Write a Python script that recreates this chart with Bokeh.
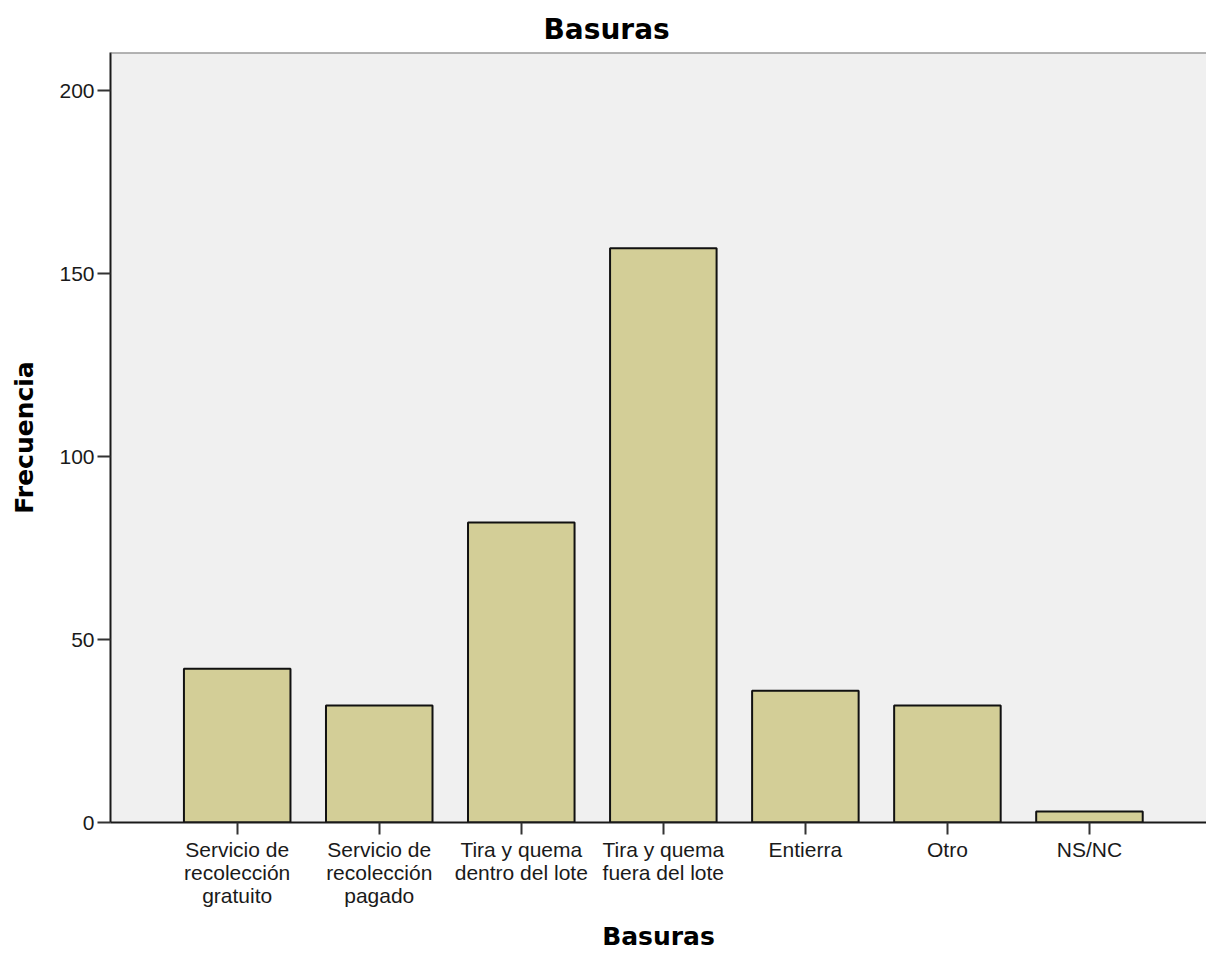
from bokeh.plotting import figure
from bokeh.models import FixedTicker, Span, Range1d
from bokeh.embed import file_html
from bokeh.resources import INLINE

categories = ["Servicio de\nrecolección\ngratuito", "Servicio de\nrecolección\npagado",
              "Tira y quema\ndentro del lote", "Tira y quema\nfuera del lote",
              "Entierra", "Otro", "NS/NC"]
frecuencia = [42, 32, 82, 157, 36, 32, 3]
y_ticks = [0, 50, 100, 150, 200]

xs = list(range(len(categories)))

p = figure(width=1206, height=953, output_backend="svg", toolbar_location=None,
           x_range=Range1d(-0.892, 6.824), y_range=Range1d(0, 210.5),
           min_border_left=110, min_border_right=0, min_border_top=52, min_border_bottom=131,
           background_fill_color="#f0f0f0", border_fill_color="white")

p.vbar(x=xs, top=frecuencia, width=0.75, bottom=0,
       fill_color="#d3ce97", line_color="#111111", line_width=2)

p.outline_line_color = None
p.grid.visible = False
p.add_layout(Span(location=210.5, dimension="width", line_color="#707070", line_width=2))

# title
p.title.text = "Basuras"
p.title.align = "left"
p.title.offset = 433
p.title.standoff = 13
p.title.text_font = "DejaVu Sans"
p.title.text_font_style = "bold"
p.title.text_font_size = "28px"
p.title.text_color = "black"

# x axis
xa = p.xaxis[0]
xa.ticker = FixedTicker(ticks=xs)
xa.major_label_overrides = {i: c for i, c in zip(xs, categories)}
xa.axis_label = "Basuras"
xa.minor_tick_line_color = None
xa.major_tick_in = 0
xa.major_tick_out = 12

# y axis
ya = p.yaxis[0]
ya.ticker = FixedTicker(ticks=y_ticks)
ya.axis_label = "Frecuencia"
ya.minor_tick_line_color = None
ya.major_tick_in = 0
ya.major_tick_out = 13

for ax in (xa, ya):
    ax.axis_line_color = "#1a1a1a"
    ax.axis_line_width = 2
    ax.major_tick_line_color = "#333333"
    ax.major_tick_line_width = 2
    ax.major_label_text_font = "Liberation Sans"
    ax.major_label_text_font_size = "21px"
    ax.major_label_text_color = "#1a1a1a"
    ax.major_label_text_line_height = 1.0
    ax.major_label_standoff = 3
    ax.axis_label_text_font = "DejaVu Sans"
    ax.axis_label_text_font_style = "bold"
    ax.axis_label_text_font_size = "25px"
    ax.axis_label_text_color = "black"

xa.axis_label_standoff = 12
ya.axis_label_standoff = 17

open("out.html", "w").write(file_html(p, INLINE))
